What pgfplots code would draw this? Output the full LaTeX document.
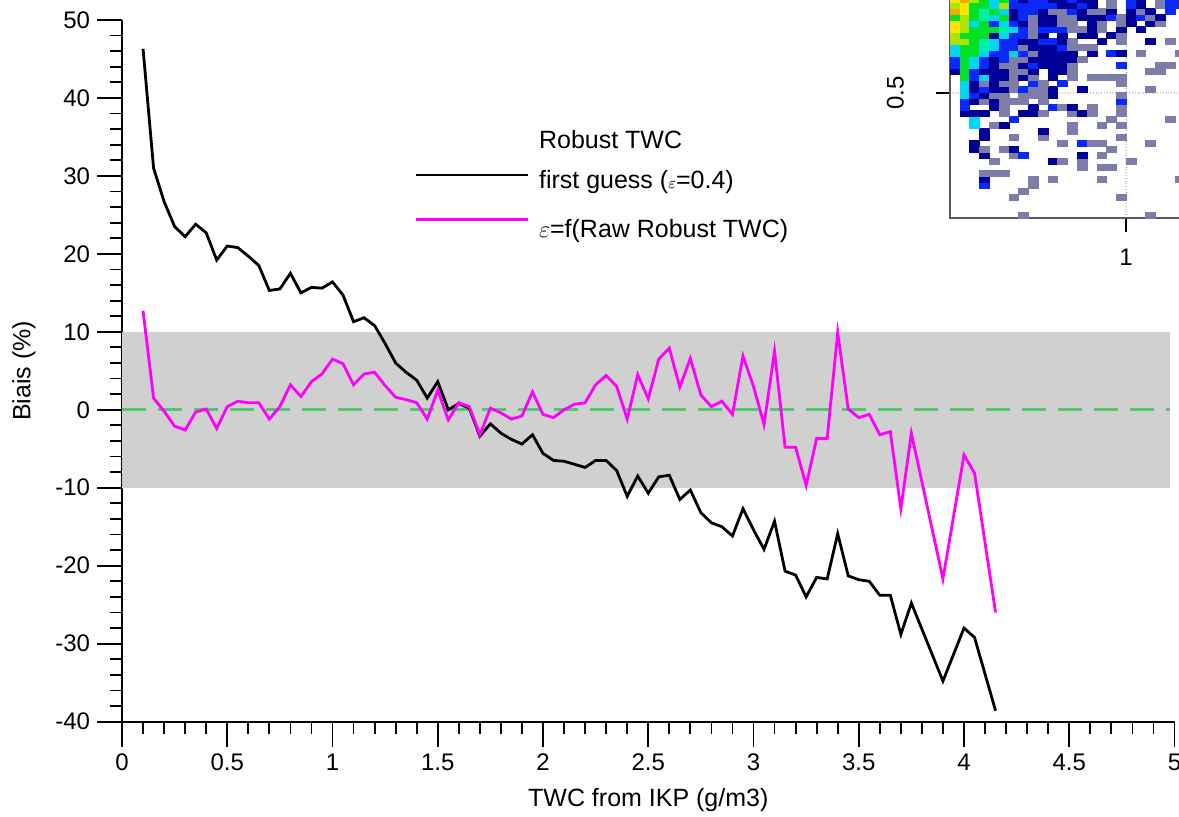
\documentclass[border=0pt]{standalone}
\usepackage{pgfplots}
\pgfplotsset{compat=1.18}
\usepackage{fontspec}
\setmainfont{Liberation Sans}
\definecolor{cgreen}{RGB}{80,200,110}
\definecolor{cmag}{RGB}{255,0,255}
\definecolor{hO}{RGB}{255,165,0}
\definecolor{hY}{RGB}{250,230,0}
\definecolor{hL}{RGB}{170,230,0}
\definecolor{hG}{RGB}{0,225,40}
\definecolor{hA}{RGB}{0,240,170}
\definecolor{hC}{RGB}{0,215,245}
\definecolor{hB}{RGB}{10,40,250}
\definecolor{hN}{RGB}{0,0,150}
\definecolor{hR}{RGB}{125,125,170}
\begin{document}
\begin{tikzpicture}
\begin{axis}[name=main, scale only axis, width=526.5pt, height=351pt,
  xmin=0, xmax=5, ymin=-40, ymax=50,
  axis x line*=bottom, axis y line*=left,
  axis line style={line width=0.9pt},
  xtick={0,0.5,1,1.5,2,2.5,3,3.5,4,4.5,5},
  ytick={-40,-30,-20,-10,0,10,20,30,40,50},
  minor x tick num=4, minor y tick num=4,
  tick align=outside, major tick length=12.5pt, minor tick length=6.25pt,
  every tick/.style={black, line width=0.9pt},
  tick label style={font=\fontsize{12}{14}\selectfont},
  /pgf/number format/assume math mode=true,
  xlabel={TWC from IKP (g/m3)}, ylabel={Biais (\%)},
  label style={font=\fontsize{12.5}{14}\selectfont},
  xlabel style={yshift=-2pt},
  ylabel style={yshift=3pt},
  legend style={at={(0.2774,0.8461)}, anchor=north west, draw=none, fill=none,
    inner sep=0pt, row sep=7.5pt, font=\fontsize{12.5}{14}\selectfont, nodes={inner sep=1pt}},
  legend cell align=left,
  legend image code/.code={\draw[#1] (0pt,3pt) -- (56pt,3pt); \path (60pt,0pt);},
]
\addplot[draw=none, fill=gray!37, forget plot] coordinates {(0,-10) (4.98,-10) (4.98,10) (0,10)} -- cycle;
\addplot[dash pattern=on 12pt off 6pt, line width=1.5pt, color=cgreen, forget plot] coordinates {(0,0) (4.98,0)};
\addlegendimage{empty legend}
\addplot[black, line width=1.4pt] coordinates {
(0.10,46.3) (0.15,31.0) (0.20,26.7) (0.25,23.5) (0.30,22.2) (0.35,23.8) (0.40,22.7)
(0.45,19.2) (0.50,21.0) (0.55,20.8) (0.60,19.7) (0.65,18.5) (0.70,15.3) (0.75,15.5)
(0.80,17.5) (0.85,15.0) (0.90,15.7) (0.95,15.6) (1.00,16.4) (1.05,14.7) (1.10,11.3)
(1.15,11.8) (1.20,10.8) (1.25,8.5) (1.30,6.0) (1.35,4.8) (1.40,3.8) (1.45,1.5)
(1.50,3.6) (1.55,0.0) (1.60,0.8) (1.65,0.2) (1.70,-3.4) (1.75,-1.8) (1.80,-3.0)
(1.85,-3.8) (1.90,-4.4) (1.95,-3.2) (2.00,-5.6) (2.05,-6.5) (2.10,-6.6) (2.15,-7.0)
(2.20,-7.4) (2.25,-6.5) (2.30,-6.5) (2.35,-7.8) (2.40,-11.1) (2.45,-8.5) (2.50,-10.7)
(2.55,-8.6) (2.60,-8.4) (2.65,-11.5) (2.70,-10.3) (2.75,-13.2) (2.80,-14.5) (2.85,-15.0)
(2.90,-16.2) (2.95,-12.7) (3.00,-15.4) (3.05,-17.9) (3.10,-14.3) (3.15,-20.7) (3.20,-21.2)
(3.25,-24.0) (3.30,-21.5) (3.35,-21.7) (3.40,-15.9) (3.45,-21.3) (3.50,-21.8) (3.55,-22.0)
(3.60,-23.8) (3.65,-23.8) (3.70,-28.8) (3.75,-24.8) (3.90,-34.8) (4.00,-28.0) (4.05,-29.2)
(4.15,-38.6)};
\addplot[cmag, line width=1.4pt] coordinates {
(0.10,12.7) (0.15,1.5) (0.20,-0.2) (0.25,-2.1) (0.30,-2.6) (0.35,-0.3) (0.40,0.1)
(0.45,-2.4) (0.50,0.4) (0.55,1.1) (0.60,0.9) (0.65,0.9) (0.70,-1.2) (0.75,0.4)
(0.80,3.2) (0.85,1.7) (0.90,3.6) (0.95,4.6) (1.00,6.5) (1.05,5.9) (1.10,3.2)
(1.15,4.6) (1.20,4.8) (1.25,3.1) (1.30,1.6) (1.35,1.3) (1.40,0.9) (1.45,-1.2)
(1.50,2.5) (1.55,-1.3) (1.60,0.9) (1.65,0.4) (1.70,-3.2) (1.75,0.2) (1.80,-0.4)
(1.85,-1.2) (1.90,-0.8) (1.95,2.3) (2.00,-0.6) (2.05,-1.0) (2.10,0.0) (2.15,0.7)
(2.20,0.9) (2.25,3.2) (2.30,4.4) (2.35,3.0) (2.40,-1.2) (2.45,4.5) (2.50,1.4)
(2.55,6.5) (2.60,7.9) (2.65,2.9) (2.70,6.6) (2.75,1.9) (2.80,0.4) (2.85,1.1)
(2.90,-0.6) (2.95,6.9) (3.00,3.0) (3.05,-1.9) (3.10,7.5) (3.15,-4.8) (3.20,-4.8)
(3.25,-9.7) (3.30,-3.7) (3.35,-3.7) (3.40,9.9) (3.45,0.1) (3.50,-1.0) (3.55,-0.6)
(3.60,-3.2) (3.65,-2.8) (3.70,-12.7) (3.75,-3.0) (3.90,-21.7) (4.00,-5.8) (4.05,-8.1)
(4.15,-26.0)};
\legend{Robust TWC, first guess ({\footnotesize$\varepsilon$}=0.4), \rule{0pt}{13.5pt}$\varepsilon$=f(Raw Robust TWC)}
\coordinate (insetpos) at (axis cs:3.9335,24.615);
\coordinate (bbsw) at (axis cs:-0.5796,-52.18);
\coordinate (bbne) at (axis cs:5.0214,52.56);
\end{axis}
\begin{axis}[at={(insetpos)}, anchor=south west, scale only axis,
  width=122.25pt, height=111pt,
  xmin=-0.5, xmax=24.5, ymin=-0.5, ymax=36.5,
  axis background/.style={fill=white},
  xtick={17.5}, xticklabels={1}, ytick={20.33}, yticklabels={0.5},
  xtick pos=bottom, ytick pos=left, tick align=outside, major tick length=7pt,
  every tick/.style={black, line width=0.8pt},
  axis line style={gray!70!black, line width=1pt},
  grid=major, grid style={densely dotted, gray!45, line width=0.6pt},
  yticklabel style={rotate=90, anchor=south, yshift=12.5pt},
  xticklabel style={yshift=-5pt},
  tick label style={font=\fontsize{12}{14}\selectfont},
  /pgf/number format/assume math mode=true,
  clip=true,
]
\addplot[scatter, only marks, mark=square*, mark size=1.5pt,
  mark options={xscale=1.63, line width=0.1pt},
  scatter src=explicit symbolic,
  scatter/classes={
    O={mark=square*, hO},
    Y={mark=square*, hY},
    L={mark=square*, hL},
    G={mark=square*, hG},
    A={mark=square*, hA},
    C={mark=square*, hC},
    B={mark=square*, hB},
    N={mark=square*, hN},
    R={mark=square*, hR}}]
table[row sep=\\, meta=t] {
x y t\\
7 0 R\\ 20 0 R\\ 6 3 R\\ 17 3 R\\ 7 4 R\\ 3 5 B\\ 8 5 R\\
3 6 N\\ 8 6 R\\ 10 6 R\\ 15 6 R\\ 23 6 R\\ 3 7 R\\ 4 7 R\\ 5 7 R\\
13 8 R\\ 15 8 R\\ 16 8 R\\ 4 9 R\\ 10 9 N\\ 11 9 R\\ 13 9 R\\ 18 9 R\\
3 10 N\\ 6 10 R\\ 7 10 B\\ 13 10 N\\ 15 10 R\\
2 11 N\\ 3 11 R\\ 5 11 R\\ 6 11 N\\ 16 11 R\\
2 12 N\\ 11 12 R\\ 13 12 B\\ 14 12 R\\ 15 12 R\\ 20 12 R\\
3 13 N\\ 6 13 R\\ 9 13 R\\ 17 13 R\\
3 14 N\\ 9 14 N\\ 12 14 R\\
2 15 C\\ 4 15 R\\ 5 15 N\\ 12 15 R\\ 15 15 R\\ 17 15 R\\
2 16 C\\ 6 16 B\\ 16 16 R\\ 22 16 R\\
1 17 N\\ 2 17 N\\ 3 17 N\\ 5 17 R\\ 7 17 N\\ 8 17 N\\ 9 17 R\\ 12 17 R\\ 13 17 N\\ 14 17 R\\ 17 17 R\\
1 18 B\\ 4 18 N\\ 5 18 R\\ 8 18 N\\ 10 18 B\\ 11 18 R\\ 12 18 N\\ 14 18 R\\ 17 18 R\\
1 19 B\\ 2 19 N\\ 3 19 R\\ 4 19 N\\ 5 19 R\\ 6 19 R\\ 7 19 R\\ 9 19 R\\ 17 19 B\\
1 20 C\\ 2 20 B\\ 3 20 N\\ 4 20 R\\ 5 20 R\\ 7 20 R\\ 8 20 R\\ 9 20 R\\ 10 20 N\\ 17 20 R\\
1 21 C\\ 2 21 N\\ 3 21 B\\ 4 21 N\\ 5 21 N\\ 6 21 R\\ 7 21 B\\ 8 21 R\\ 9 21 R\\ 10 21 N\\ 13 21 N\\ 20 21 R\\
1 22 C\\ 2 22 N\\ 3 22 R\\ 4 22 N\\ 5 22 R\\ 6 22 R\\ 8 22 B\\ 9 22 R\\ 11 22 B\\ 17 22 R\\
1 23 G\\ 2 23 B\\ 3 23 C\\ 4 23 N\\ 5 23 N\\ 6 23 R\\ 7 23 N\\ 8 23 R\\ 10 23 N\\ 12 23 R\\ 14 23 R\\ 15 23 R\\ 16 23 R\\ 17 23 R\\
0 24 N\\ 1 24 G\\ 2 24 B\\ 3 24 N\\ 4 24 N\\ 5 24 N\\ 6 24 R\\ 7 24 R\\ 8 24 N\\ 10 24 N\\ 11 24 N\\ 12 24 R\\ 20 24 R\\ 21 24 R\\
0 25 B\\ 1 25 G\\ 2 25 C\\ 3 25 B\\ 4 25 N\\ 5 25 R\\ 6 25 R\\ 7 25 N\\ 8 25 B\\ 9 25 N\\ 10 25 N\\ 11 25 N\\ 12 25 R\\ 17 25 B\\ 21 25 R\\ 22 25 R\\
0 26 B\\ 1 26 G\\ 2 26 C\\ 3 26 B\\ 4 26 N\\ 5 26 B\\ 6 26 R\\ 7 26 R\\ 8 26 N\\ 9 26 N\\ 10 26 N\\ 11 26 N\\ 12 26 N\\ 13 26 R\\
0 27 C\\ 1 27 G\\ 2 27 G\\ 3 27 C\\ 4 27 B\\ 5 27 B\\ 6 27 C\\ 7 27 B\\ 8 27 R\\ 9 27 N\\ 10 27 N\\ 11 27 N\\ 12 27 N\\ 14 27 N\\ 16 27 B\\ 17 27 N\\ 19 27 R\\ 23 27 R\\
0 28 C\\ 1 28 G\\ 2 28 G\\ 3 28 A\\ 4 28 C\\ 5 28 B\\ 6 28 B\\ 7 28 R\\ 8 28 N\\ 9 28 N\\ 10 28 N\\ 11 28 B\\ 12 28 R\\ 13 28 R\\ 14 28 R\\
0 29 L\\ 1 29 L\\ 2 29 G\\ 3 29 A\\ 4 29 C\\ 5 29 B\\ 6 29 B\\ 7 29 N\\ 8 29 N\\ 9 29 B\\ 10 29 B\\ 11 29 N\\ 12 29 R\\ 15 29 N\\ 17 29 R\\ 20 29 N\\ 22 29 R\\
0 30 L\\ 1 30 G\\ 2 30 G\\ 3 30 G\\ 4 30 N\\ 5 30 C\\ 6 30 B\\ 7 30 B\\ 8 30 R\\ 9 30 N\\ 11 30 N\\ 13 30 N\\ 14 30 N\\ 16 30 N\\ 17 30 R\\
0 31 Y\\ 1 31 L\\ 2 31 G\\ 3 31 G\\ 4 31 G\\ 5 31 A\\ 6 31 C\\ 7 31 B\\ 8 31 R\\ 9 31 B\\ 10 31 B\\ 11 31 B\\ 12 31 R\\ 13 31 R\\ 14 31 N\\ 15 31 R\\ 17 31 N\\ 19 31 N\\
0 32 Y\\ 1 32 L\\ 2 32 C\\ 3 32 G\\ 4 32 B\\ 5 32 C\\ 6 32 B\\ 7 32 N\\ 8 32 R\\ 9 32 N\\ 10 32 N\\ 11 32 R\\ 12 32 R\\ 14 32 N\\ 15 32 R\\ 17 32 R\\ 18 32 N\\ 20 32 N\\ 21 32 R\\
0 33 G\\ 1 33 L\\ 2 33 G\\ 3 33 A\\ 4 33 C\\ 5 33 G\\ 6 33 N\\ 7 33 B\\ 8 33 R\\ 9 33 N\\ 10 33 N\\ 11 33 R\\ 12 33 R\\ 13 33 N\\ 14 33 N\\ 15 33 N\\ 16 33 B\\ 17 33 R\\ 18 33 N\\ 19 33 B\\ 20 33 R\\ 21 33 N\\
0 34 O\\ 1 34 Y\\ 2 34 G\\ 3 34 A\\ 4 34 G\\ 5 34 C\\ 6 34 N\\ 7 34 B\\ 8 34 B\\ 9 34 N\\ 10 34 R\\ 11 34 R\\ 12 34 B\\ 13 34 N\\ 14 34 R\\ 15 34 R\\ 16 34 N\\ 18 34 N\\ 19 34 R\\ 20 34 N\\ 22 34 B\\
0 35 L\\ 1 35 Y\\ 2 35 G\\ 3 35 G\\ 4 35 C\\ 5 35 L\\ 6 35 B\\ 7 35 B\\ 8 35 B\\ 9 35 B\\ 10 35 B\\ 11 35 N\\ 12 35 N\\ 13 35 B\\ 14 35 N\\ 16 35 R\\ 18 35 B\\ 19 35 N\\ 21 35 R\\ 22 35 B\\ 23 35 B\\
0 36 Y\\ 1 36 O\\ 2 36 L\\ 3 36 G\\ 4 36 C\\ 5 36 G\\ 6 36 B\\ 7 36 N\\ 8 36 B\\ 9 36 B\\ 10 36 N\\ 11 36 N\\ 12 36 B\\ 13 36 N\\ 14 36 N\\ 16 36 R\\ 18 36 B\\ 19 36 N\\ 21 36 R\\ 22 36 B\\ 23 36 B\\
};
\end{axis}
\pgfresetboundingbox
\path[use as bounding box] (bbsw) rectangle (bbne);
\end{tikzpicture}
\end{document}
